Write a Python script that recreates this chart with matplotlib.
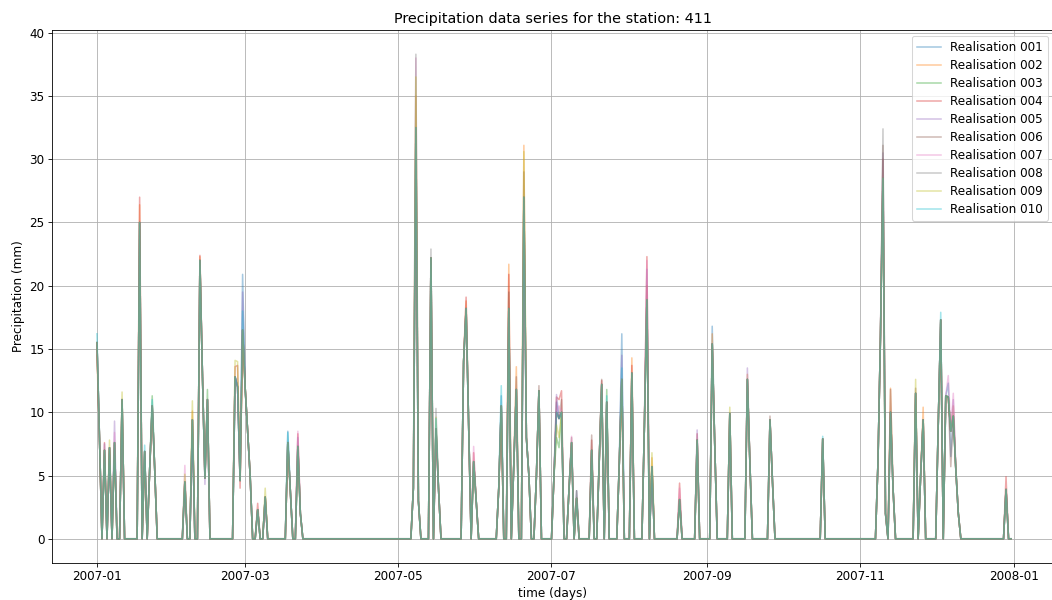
"""Precipitation series for station 411: ten stochastic realisations of 2007."""
import matplotlib
matplotlib.use("Agg")
import matplotlib.pyplot as plt
import matplotlib.dates as mdates
import numpy as np
import pandas as pd

station = 411
n_real = 10

# wet days (day index from 2007-01-01) and the value most realisations share
wet_days = [0, 1, 3, 5, 7, 10, 17, 19, 21, 22, 23, 35, 38, 41, 42, 43, 44,
            55, 56, 57, 58, 59, 60, 61, 64, 67, 76, 77, 80, 81,
            126, 127, 128, 133, 135, 136, 146, 147, 148, 150, 151,
            160, 161, 164, 166, 167, 170, 171, 172, 175, 176,
            182, 183, 184, 185, 188, 189, 191, 197, 200, 201, 203,
            208, 209, 213, 218, 219, 221, 232, 239, 245, 246, 252, 259, 260,
            268, 269, 289, 311, 312, 313, 314, 316, 317, 326, 328, 329,
            335, 336, 338, 339, 340, 341, 342, 343, 362]
base_mm = [15.5, 8.0, 7.0, 7.2, 7.6, 11.0, 25.0, 6.9, 5.5, 10.5, 5.5, 4.5, 9.4, 22.0, 13.0, 4.8, 11.0,
           12.8, 12.0, 4.6, 16.5, 12.0, 8.5, 5.0, 2.3, 3.3, 7.6, 3.8, 7.3, 2.0,
           4.0, 32.5, 3.0, 22.2, 8.7, 4.0, 14.0, 18.2, 9.0, 6.1, 3.0,
           4.0, 10.5, 18.2, 6.0, 11.8, 27.0, 8.0, 5.0, 5.0, 11.7,
           5.0, 10.0, 9.5, 10.0, 4.0, 7.6, 3.2, 7.0, 6.0, 12.2, 10.8,
           6.0, 12.6, 13.1, 9.0, 18.9, 5.7, 3.1, 7.8, 15.4, 7.5, 9.9, 12.6, 6.0,
           9.4, 4.5, 7.9, 6.0, 16.0, 28.5, 2.0, 10.0, 4.0, 11.5, 5.0, 9.4,
           9.0, 17.3, 11.3, 11.2, 8.5, 9.7, 5.5, 2.0, 3.9]

# where single realisations depart from the shared value: (realisation, day, mm)
departures = [
    (10, 0, 16.2), (2, 0, 14.5), (4, 3, 7.6), (5, 3, 7.5), (9, 5, 7.8),
    (5, 7, 9.3), (7, 7, 8.4), (9, 10, 11.6), (4, 17, 27.0), (2, 17, 26.4),
    (10, 19, 7.4), (3, 22, 11.3), (10, 22, 11.0), (7, 35, 5.8), (9, 35, 5.1),
    (9, 38, 10.9), (2, 38, 10.1), (4, 41, 22.4), (2, 41, 22.3), (5, 43, 4.3),
    (3, 44, 11.8), (9, 55, 14.1), (4, 55, 13.6), (9, 56, 14.0), (4, 56, 13.7),
    (4, 57, 4.0), (1, 58, 20.9), (5, 58, 19.5), (10, 58, 18.0), (4, 64, 2.8),
    (9, 67, 4.0), (1, 76, 8.5), (10, 76, 8.4), (7, 80, 8.5), (4, 80, 8.3),
    (5, 80, 8.0), (8, 127, 38.3), (7, 127, 38.0), (9, 127, 36.5), (2, 127, 35.0),
    (8, 133, 22.9), (8, 135, 10.3), (9, 135, 9.6), (10, 135, 9.5),
    (4, 147, 19.1), (2, 147, 18.8), (7, 150, 7.3), (4, 150, 6.8),
    (10, 161, 12.1), (1, 161, 11.3), (2, 164, 21.7), (4, 164, 20.9), (6, 164, 19.5),
    (2, 167, 13.6), (6, 167, 12.8), (2, 170, 31.1), (9, 170, 30.6), (6, 170, 29.0),
    (6, 176, 12.1), (5, 183, 11.4), (4, 183, 11.2), (1, 183, 10.8), (9, 183, 9.0),
    (3, 183, 8.0), (4, 184, 11.0), (7, 184, 10.5), (9, 184, 8.0), (3, 184, 7.2),
    (4, 185, 11.7), (6, 185, 11.0), (7, 189, 8.1), (6, 189, 8.0),
    (1, 191, 3.8), (6, 191, 3.8), (6, 197, 8.2), (4, 197, 7.8),
    (6, 201, 12.6), (4, 201, 12.5), (3, 203, 11.8), (10, 203, 11.3),
    (1, 209, 16.2), (5, 209, 14.5), (10, 209, 13.5), (2, 213, 14.3), (4, 213, 13.7),
    (4, 219, 22.3), (7, 219, 22.0), (5, 219, 21.3), (2, 219, 20.0),
    (9, 221, 6.8), (2, 221, 6.4), (4, 232, 4.4), (7, 232, 4.0),
    (5, 239, 8.6), (4, 239, 8.3), (1, 245, 16.8), (2, 245, 16.2), (9, 252, 10.4),
    (5, 259, 13.5), (2, 259, 13.0), (6, 268, 9.7), (10, 289, 8.1),
    (8, 313, 32.4), (6, 313, 31.1), (5, 313, 30.5), (4, 313, 30.0),
    (2, 316, 11.9), (6, 316, 11.8), (9, 326, 12.6), (6, 326, 11.9), (2, 329, 10.4),
    (10, 336, 17.9), (7, 339, 12.9), (1, 339, 12.3), (6, 340, 5.7), (1, 340, 6.5),
    (7, 341, 11.5), (5, 341, 11.0), (2, 341, 10.5), (4, 362, 4.9),
]

dates = pd.date_range("2007-01-01", "2007-12-31", freq="D")

series = np.zeros((n_real, len(dates)))
series[:, wet_days] = base_mm
for r, d, v in departures:
    series[r - 1, d] = v

plt.rcParams["font.size"] = 11.5

fig = plt.figure(figsize=(1052 / 75, 600 / 75), dpi=75)
ax = fig.add_axes([52 / 1052, 37 / 600, 1002 / 1052, 533 / 600])
for i in range(n_real):
    ax.plot(dates, series[i], alpha=0.4, lw=1.5, label=f"Realisation {i + 1:03d}")

ax.set_xlim(dates[0] - pd.Timedelta(days=17.9), dates[0] + pd.Timedelta(days=381.1))
ax.xaxis.set_major_locator(mdates.MonthLocator(bymonth=[1, 3, 5, 7, 9, 11]))
ax.xaxis.set_major_formatter(mdates.DateFormatter("%Y-%m"))
ax.set_xlabel("time (days)")
ax.set_ylabel("Precipitation (mm)")
ax.set_title(f"Precipitation data series for the station: {station}", pad=7)
ax.grid(True)
ax.legend(loc="upper right", labelspacing=0.42)
fig.savefig("out.png", dpi=75)
